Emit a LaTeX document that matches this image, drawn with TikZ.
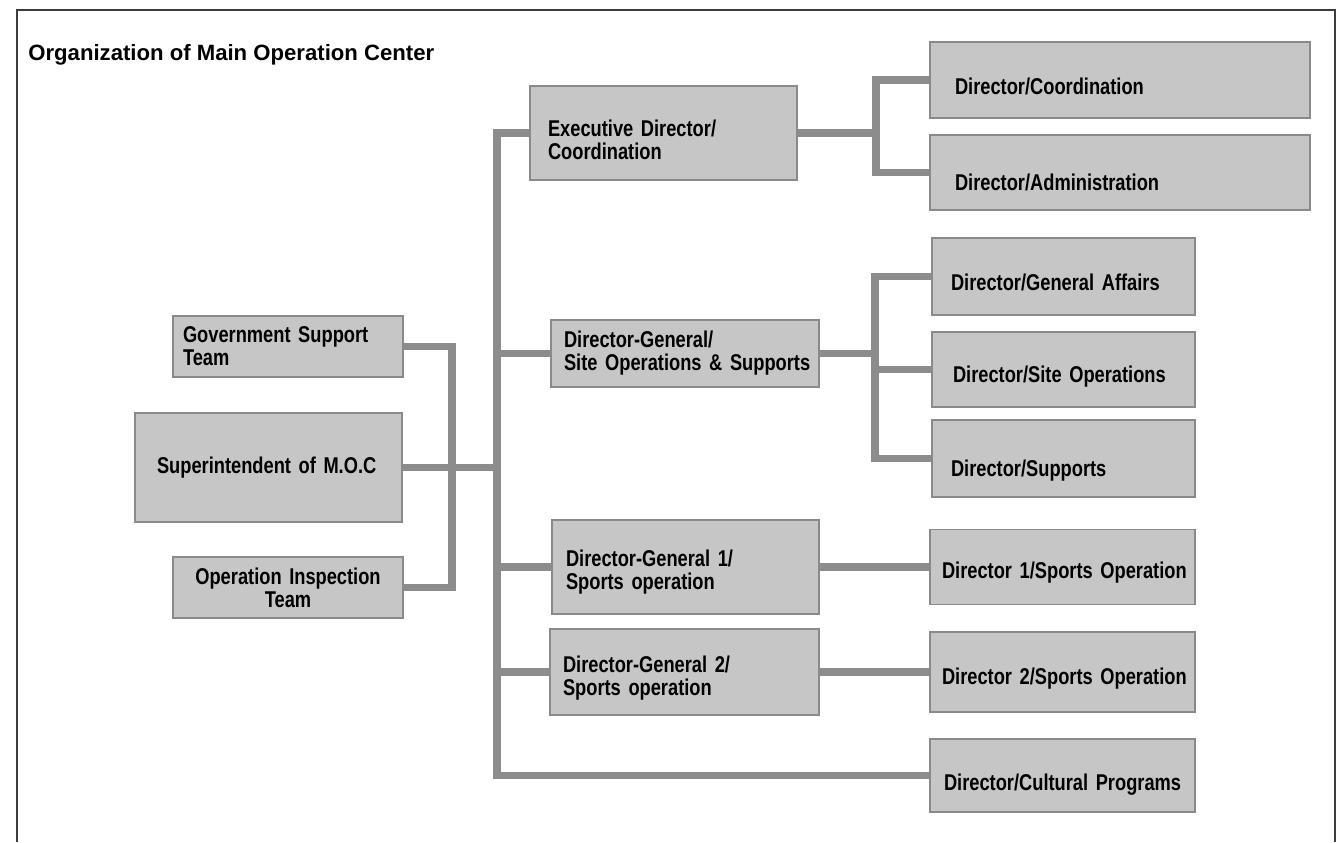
\documentclass[tikz,border=0pt]{standalone}
\usepackage{fontspec}
\usepackage{xcolor}
\usepackage{tikz}
\usetikzlibrary{positioning, calc}
\newfontfamily\titlefont{Liberation Sans}
\newfontfamily\unitfont[FakeStretch=0.8]{Liberation Sans}
\definecolor{unitfill}{RGB}{198,198,198}
\definecolor{unitline}{RGB}{138,138,138}
\definecolor{wirecol}{RGB}{140,140,140}
\definecolor{framecol}{RGB}{60,60,60}

\tikzset{
  unit/.style={draw=unitline, fill=unitfill, line width=1pt, inner ysep=0pt,
    align=left, font=\unitfont\bfseries\fontsize{13}{13}\selectfont,
    execute at begin node={\hyphenpenalty=10000\exhyphenpenalty=10000}},
  wire/.style={draw=wirecol, line width=4.2pt},
  frame/.style={draw=framecol, line width=1.3pt}
}

\begin{document}
\begin{tikzpicture}[x=0.02cm, y=-0.02cm]
\useasboundingbox (0,0) rectangle (1341,842);
\draw[frame] (17,842) -- (17,10) -- (1335,10) -- (1335,842);

\node[anchor=west, inner sep=0pt, font=\titlefont\bfseries\fontsize{12.6}{15}\selectfont]
    (title) at (28,54.5) {Organization of Main Operation Center};

% left column
\node[unit, text width=4.2cm, inner xsep=0.2cm, minimum height=1.22cm]
    (gov) at (288,346.5) {Government Support\\Team};
\node[unit, text width=4.46cm, inner xsep=0.44cm, minimum height=2.18cm]
    (sup) at (268.5,467.5) {Superintendent of M.O.C};
\node[unit, text width=4.2cm, inner xsep=0.2cm, minimum height=1.22cm, align=center]
    (insp) at (288,587.5) {Operation Inspection\\Team};

% middle column
\node[unit, text width=4.62cm, inner xsep=0.36cm, minimum height=1.88cm, text height=17.2pt]
    (exec) at (663.5,133) {Executive Director/\\Coordination};
\node[unit, text width=4.84cm, inner xsep=0.26cm, minimum height=1.34cm]
    (site) at (685,353.5) {Director-General/\\Site~Operations~\&~Supports};
\node[unit, text width=4.78cm, inner xsep=0.28cm, minimum height=1.88cm, text height=15.5pt]
    (dgone) at (685.5,567) {Director-General 1/\\Sports operation};
\node[unit, text width=4.86cm, inner xsep=0.26cm, minimum height=1.72cm, text height=16.7pt]
    (dgtwo) at (684.5,672) {Director-General 2/\\Sports operation};

% right column
\foreach \n/\x/\y/\tw/\s/\h/\th/\t in {
    coord/1120/80/6.6/0.5/1.52/17.2/{Director/Coordination},
    admin/1120/172.5/6.6/0.5/1.5/20.6/{Director/Administration},
    genaff/1063.5/276.5/4.5/0.38/1.54/16.1/{Director/General~Affairs},
    siteops/1063.5/369.5/4.42/0.42/1.5/17.2/{Director/Site~Operations},
    supp/1063.5/458.5/4.5/0.38/1.54/22.9/{Director/Supports},
    dirone/1062.5/567/4.82/0.24/1.5/16.1/{Director~1/Sports~Operation},
    dirtwo/1062.5/672/4.82/0.24/1.6/17.2/{Director~2/Sports~Operation},
    cult/1062.5/775.5/4.74/0.28/1.46/19.5/{Director/Cultural~Programs}}
    \node[unit, text width=\tw cm, inner xsep=\s cm, minimum height=\h cm,
        text height=\th pt] (\n) at (\x,\y) {\t};

% connectors
\coordinate (side) at (452,0);
\coordinate (trunk) at (497,0);
\coordinate (forkA) at (876,0);
\coordinate (forkB) at (875,0);

\draw[wire] (gov.east) -- (gov.east -| side) |- (insp.east);
\draw[wire] (sup.east) -- (sup.east -| trunk);
\draw[wire] (exec.west) -- (exec.west -| trunk) |- (cult.west);
\foreach \n in {site, dgone, dgtwo}
    \draw[wire] (\n.west -| trunk) -- (\n.west);

\draw[wire] (exec.east) -- (exec.east -| forkA);
\draw[wire] (coord.west) -- (coord.west -| forkA) |- (admin.west);
\draw[wire] (site.east) -- (site.east -| forkB);
\draw[wire] (genaff.west) -- (genaff.west -| forkB) |- (supp.west);
\draw[wire] (siteops.west -| forkB) -- (siteops.west);
\draw[wire] (dgone.east) -- (dirone.west);
\draw[wire] (dgtwo.east) -- (dirtwo.west);

\end{tikzpicture}
\end{document}
